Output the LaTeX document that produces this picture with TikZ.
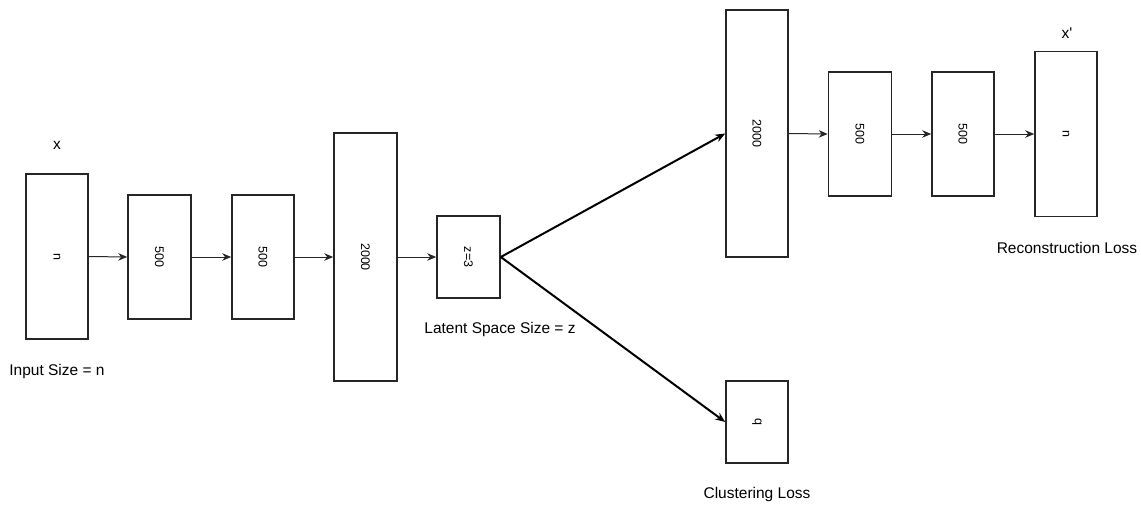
\documentclass[tikz,border=0pt]{standalone}
\usepackage{fontspec}
\setmainfont{Liberation Sans}
\usetikzlibrary{arrows.meta}
\begin{document}
\begin{tikzpicture}[x=1pt,y=-1pt,
  layer/.style={draw=black!85, line width=1.6pt, fill=white, inner sep=0pt, font=\fontsize{12.5}{14}\selectfont},
  lbl/.style={font=\fontsize{15.5}{18}\selectfont, inner sep=0pt},
  conn/.style={draw=black!85, line width=1pt, -{Stealth[length=9pt,width=7.5pt]}},
  thick conn/.style={draw=black, line width=2pt, -{Stealth[length=10pt,width=8pt]}}]
\useasboundingbox (0,0) rectangle (1141,504);
% encoder
\node[layer, minimum width=62pt, minimum height=165pt] (in) at (57,256.5) {\rotatebox{-90}{n}};
\node[layer, minimum width=63pt, minimum height=124pt] (e1) at (159.5,257) {\rotatebox{-90}{500}};
\node[layer, minimum width=62pt, minimum height=124pt] (e2) at (263,257) {\rotatebox{-90}{500}};
\node[layer, minimum width=63pt, minimum height=248pt] (e3) at (365.5,257) {\rotatebox{-90}{2000}};
\node[layer, minimum width=63pt, minimum height=82pt] (z) at (468.5,257) {\rotatebox{-90}{z=3}};
% decoder
\node[layer, minimum width=62pt, minimum height=247pt] (d1) at (757,133.5) {\rotatebox{-90}{2000}};
\node[layer, minimum width=63pt, minimum height=124pt] (d2) at (860,134) {\rotatebox{-90}{500}};
\node[layer, minimum width=62pt, minimum height=124pt] (d3) at (963,134) {\rotatebox{-90}{500}};
\node[layer, minimum width=62pt, minimum height=165pt] (out) at (1066,134) {\rotatebox{-90}{n}};
% clustering
\node[layer, minimum width=62pt, minimum height=82pt] (q) at (757,422) {\rotatebox{-90}{q}};
% labels
\node[lbl] (lx) at (57,145) {x};
\node[lbl] (lin) at (57,371) {Input Size = n};
\node[lbl] (llat) at (500,329) {Latent Space Size = z};
\node[lbl] (lxp) at (1067,33) {x\textquotesingle};
\node[lbl] (lrec) at (1067,248) {Reconstruction Loss};
\node[lbl] (lclu) at (757,494) {Clustering Loss};
% connectors
\draw[conn] (in.east) -- (e1.west);
\draw[conn] (e1.east) -- (e2.west);
\draw[conn] (e2.east) -- (e3.west);
\draw[conn] (e3.east) -- (z.west);
\draw[thick conn] (z.east) -- (d1.west);
\draw[thick conn] (z.east) -- (q.west);
\draw[conn] (d1.east) -- (d2.west);
\draw[conn] (d2.east) -- (d3.west);
\draw[conn] (d3.east) -- (out.west);
\end{tikzpicture}
\end{document}
